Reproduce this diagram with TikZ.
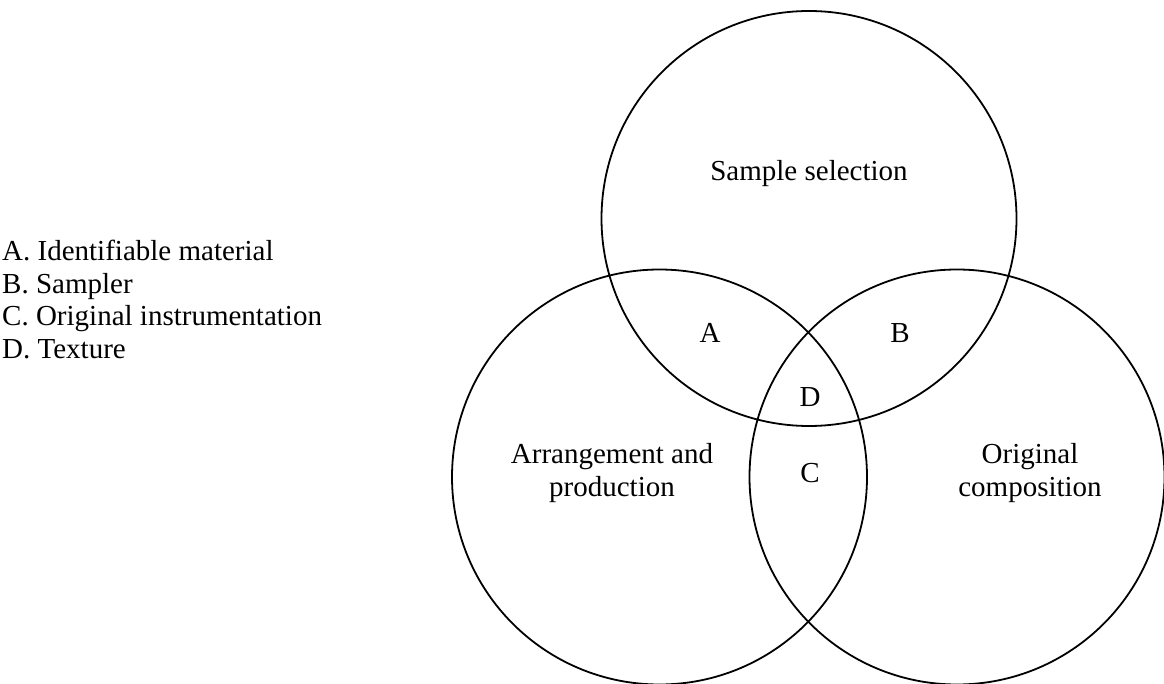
\documentclass[tikz,border=0pt]{standalone}
\usepackage{fontspec}
\setmainfont{Liberation Serif}
\begin{document}
\begin{tikzpicture}[x=1pt,y=-1pt,
  circ/.style={draw=black,line width=1.8pt},
  lbl/.style={font=\fontsize{29}{33}\selectfont,inner sep=0pt,align=center},
  leg/.style={font=\fontsize{29}{33}\selectfont,inner sep=0pt,anchor=base west}]
\useasboundingbox (0,0) rectangle (1164,684);
\draw[circ] (809,218.5) circle[radius=207.5];
\draw[circ] (659.5,477) circle[radius=207.5];
\draw[circ] (957,477) circle[radius=207.5];
\node[leg] (la) at (2,261) {A. Identifiable material};
\node[leg] (lb) at (2,293.5) {B. Sampler};
\node[leg] (lc) at (2,326) {C. Original instrumentation};
\node[leg] (ld) at (2,358.5) {D. Texture};
\node[lbl] (ss) at (809,174) {Sample selection};
\node[lbl] (a) at (710,333) {A};
\node[lbl] (b) at (900,333) {B};
\node[lbl] (d) at (810,397) {D};
\node[lbl] (c) at (810,473) {C};
\node[lbl] (ap) at (612,473) {Arrangement and\\production};
\node[lbl] (oc) at (1030,473) {Original\\composition};
\end{tikzpicture}
\end{document}
